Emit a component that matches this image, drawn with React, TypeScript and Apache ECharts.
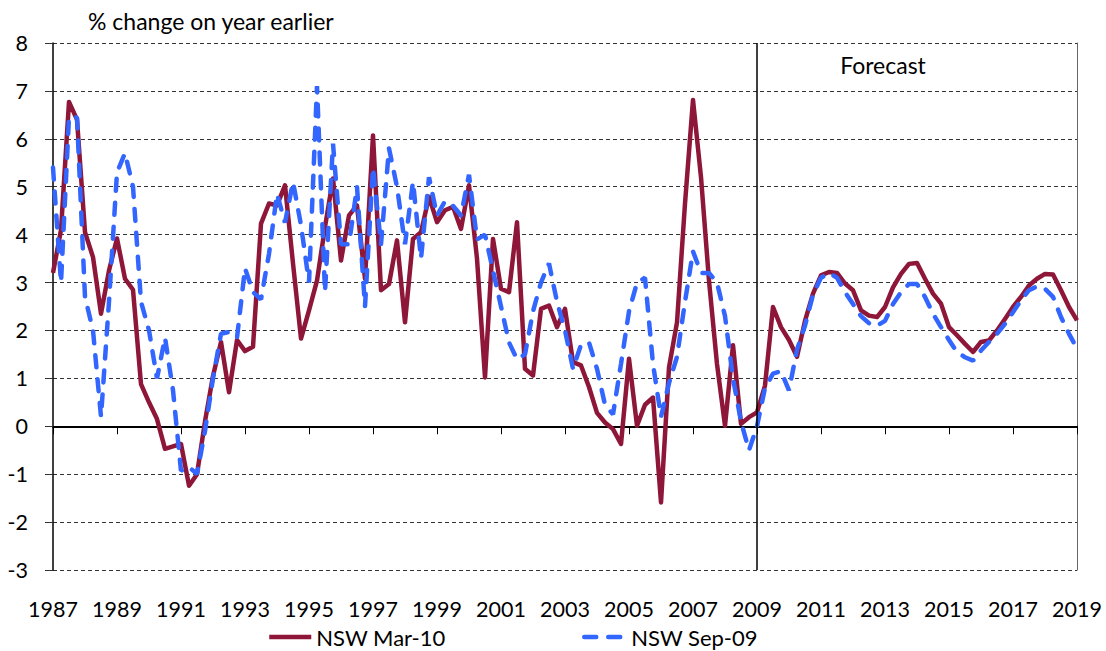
import React, { useEffect, useRef } from "react";
import * as echarts from "echarts";

// Quarterly observations, first point = 1987, step = one quarter
const START_YEAR = 1987;
const QUARTER = 0.25;
const X_MIN = 1987;
const X_MAX = 2019;
const X_TICK_STEP = 2;
const Y_MIN = -3;
const Y_MAX = 8;
const Y_TICK_STEP = 1;
const FORECAST_START = 2009;

const seriesNames = ["NSW Mar-10", "NSW Sep-09"];

const nswMar10 = [
  3.2, 4.1, 6.77, 6.4, 4.05, 3.53, 2.35, 3.25, 3.92, 3.08, 2.85, 0.88, 0.5, 0.15, -0.47, -0.42,
  -0.37, -1.24, -1.0, 0.1, 1.05, 1.76, 0.71, 1.8, 1.57, 1.66, 4.23, 4.65, 4.61, 5.03, 3.4, 1.83,
  2.42, 3.04, 4.16, 5.17, 3.46, 4.4, 4.61, 3.08, 6.07, 2.84, 2.97, 3.88, 2.17, 3.91, 4.05, 4.79,
  4.26, 4.51, 4.58, 4.12, 5.03, 3.5, 1.02, 3.91, 2.87, 2.8, 4.26, 1.2, 1.06, 2.45, 2.52, 2.07,
  2.45, 1.34, 1.27, 0.82, 0.28, 0.08, -0.06, -0.37, 1.41, 0.01, 0.45, 0.6, -1.59, 1.23, 2.17, 4.65,
  6.81, 5.2, 3.04, 1.3, 0.01, 1.69, 0.05, 0.19, 0.29, 0.85, 2.49, 2.07, 1.8, 1.45, 2.2, 2.77,
  3.15, 3.22, 3.2, 2.98, 2.84, 2.42, 2.31, 2.28, 2.49, 2.9, 3.18, 3.39, 3.41, 3.08, 2.77, 2.56,
  2.07, 1.9, 1.72, 1.55, 1.76, 1.79, 2.0, 2.24, 2.49, 2.7, 2.94, 3.08, 3.18, 3.17, 2.84, 2.49,
  2.21,
];

const nswSep09 = [
  5.4, 3.0, 6.45, 6.45, 2.7, 2.0, 0.2, 2.6, 5.3, 5.7, 5.0, 2.6, 2.0, 1.0, 1.85, 0.75,
  -0.93, -0.85, -1.0, -0.1, 1.0, 1.93, 1.97, 1.85, 3.3, 2.8, 2.65, 3.6, 4.85, 4.25, 5.1, 4.2,
  3.0, 7.1, 2.8, 5.9, 3.8, 3.8, 5.0, 2.5, 5.4, 3.8, 5.8, 5.0, 3.8, 5.1, 3.5, 5.2,
  4.4, 4.7, 4.6, 4.4, 5.25, 3.9, 4.0, 3.25, 2.5, 1.75, 1.4, 1.5, 2.4, 3.0, 3.4, 2.6,
  2.0, 1.2, 1.7, 1.75, 1.2, 0.45, 0.25, 1.3, 2.4, 3.0, 3.1, 1.3, 0.2, 0.9, 1.45, 2.6,
  3.65, 3.2, 3.2, 3.0, 2.3, 1.0, 0.1, -0.5, 0.0, 0.8, 1.1, 1.15, 0.75, 1.6, 2.1, 2.75,
  3.1, 3.2, 3.1, 2.8, 2.55, 2.3, 2.15, 2.1, 2.2, 2.55, 2.8, 2.97, 2.97, 2.7, 2.35, 2.07,
  1.8, 1.55, 1.44, 1.37, 1.58, 1.76, 1.93, 2.14, 2.38, 2.63, 2.84, 2.92, 2.87, 2.7, 2.28, 1.93,
  1.62,
];

const yAxisTitle = "% change on year earlier";
const forecastLabel = "Forecast";

const FONT = "Lato";
const RED = "#8E1638";
const BLUE = "#3366FF";

const toPoints = (vals: number[]) => vals.map((v, i) => [START_YEAR + i * QUARTER, v]);

export default function App() {
  const ref = useRef<HTMLDivElement>(null);

  useEffect(() => {
    if (!ref.current) return;
    const chart = echarts.init(ref.current, undefined, { renderer: "svg" });
    const axisLabelStyle = { fontSize: 21.5, fontFamily: FONT, color: "#000" };
    const legendBase = {
      top: 626,
      itemWidth: 42,
      itemHeight: 10,
      padding: 0,
      itemStyle: { opacity: 0 },
      lineStyle: { width: 4.5 },
      textStyle: { fontSize: 22, fontFamily: FONT, color: "#000" },
    };
    chart.setOption({
      animation: false,
      backgroundColor: "#fff",
      grid: { left: 53, right: 29, top: 43, bottom: 81, containLabel: false },
      xAxis: [
        {
          type: "value",
          min: X_MIN,
          max: X_MAX,
          interval: X_TICK_STEP,
          position: "bottom",
          axisLine: { show: false, onZero: false },
          axisTick: { show: false },
          splitLine: { show: false },
          axisLabel: { ...axisLabelStyle, margin: 28, formatter: (v: number) => String(v), showMinLabel: true, showMaxLabel: true },
        },
        {
          type: "value",
          min: X_MIN,
          max: X_MAX,
          interval: X_TICK_STEP,
          position: "top",
          axisLine: { show: true, onZero: true, onZeroAxisIndex: 0, lineStyle: { color: "#000", width: 2 } },
          axisTick: { show: true, inside: true, length: 8, lineStyle: { color: "#000", width: 1 } },
          axisLabel: { show: false },
          splitLine: { show: false },
        },
      ],
      yAxis: [
        {
          type: "value",
          min: Y_MIN,
          max: Y_MAX,
          interval: Y_TICK_STEP,
          position: "left",
          axisLine: { show: true, onZero: false, lineStyle: { color: "#000", width: 1.5 } },
          axisTick: { show: true, length: 8, lineStyle: { color: "#333", width: 1 } },
          axisLabel: { ...axisLabelStyle, margin: 25 },
          splitLine: { show: true, lineStyle: { color: "#333", width: 1, type: [4, 3] } },
        },
        {
          type: "value",
          min: Y_MIN,
          max: Y_MAX,
          interval: Y_TICK_STEP,
          position: "right",
          axisLine: { show: true, onZero: false, lineStyle: { color: "#666", width: 1 } },
          axisTick: { show: false },
          axisLabel: { show: false },
          splitLine: { show: false },
        },
      ],
      legend: [
        { ...legendBase, data: [seriesNames[0]], left: 267 },
        { ...legendBase, data: [seriesNames[1]], left: 582 },
      ],
      graphic: [
        {
          type: "text",
          x: 88,
          y: 21,
          style: { text: yAxisTitle, fontSize: 23, fontFamily: FONT, fill: "#000", align: "left", verticalAlign: "middle" },
        },
        {
          type: "text",
          x: 883,
          y: 65,
          style: { text: forecastLabel, fontSize: 23, fontFamily: FONT, fill: "#000", align: "center", verticalAlign: "middle" },
        },
      ],
      series: [
        {
          name: seriesNames[0],
          type: "line",
          data: toPoints(nswMar10),
          symbol: "none",
          z: 3,
          lineStyle: { color: RED, width: 4.5, join: "round" },
          itemStyle: { color: RED },
          markLine: {
            silent: true,
            symbol: ["none", "none"],
            label: { show: false },
            lineStyle: { color: "#000", width: 1.5, type: "solid" },
            data: [{ xAxis: FORECAST_START }],
          },
        },
        {
          name: seriesNames[1],
          type: "line",
          data: toPoints(nswSep09),
          symbol: "none",
          z: 4,
          lineStyle: { color: BLUE, width: 4.5, type: [12, 12], cap: "round" },
          itemStyle: { color: BLUE },
        },
      ],
    });
    return () => chart.dispose();
  }, []);

  return (
    <div
      ref={ref}
      style={{ position: "fixed", left: 0, top: 0, width: 1106, height: 651, background: "#fff" }}
    />
  );
}
